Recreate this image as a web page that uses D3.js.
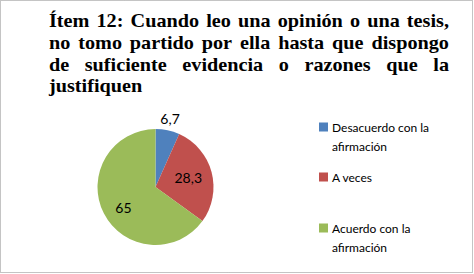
<!DOCTYPE html>
<html><head><meta charset="utf-8">
<script src="https://cdn.jsdelivr.net/npm/d3@7"></script>
<style>html,body{margin:0;padding:0;background:#fff;}
.tt{font-family:"Liberation Serif","Times New Roman",Times,serif;font-weight:bold;font-size:18.5px;}
.lb{font-family:Lato,Carlito,Calibri,sans-serif;}
</style>
</head><body>
<svg id="c" width="474" height="274"></svg>
<script>
const categories = ["Desacuerdo con la afirmación", "A veces", "Acuerdo con la afirmación"];
const values = [6.7, 28.3, 65];
const valueLabels = ["6,7", "28,3", "65"];
const colors = ["#4F81BD", "#C0504D", "#9BBB59"];
const titleLines = [
  "Ítem 12: Cuando leo una opinión o una tesis,",
  "no tomo partido por ella hasta que dispongo",
  "de suficiente evidencia o razones que la",
  "justifiquen"
];
const legendLines = [["Desacuerdo con la", "afirmación"], ["A veces"], ["Acuerdo con la", "afirmación"]];

const svg = d3.select("#c");
svg.append("rect").attr("x", 0.5).attr("y", 0.5).attr("width", 472).attr("height", 272)
  .attr("fill", "#fff").attr("stroke", "#888").attr("stroke-dasharray", "1,1");

// Title (justified, slightly widened like the reference)
const tx0 = 49, tW = 400;
const tg = svg.append("g");
const measure = tg.append("text").attr("class", "tt").text("a b");
const spW = measure.node().getComputedTextLength() - (() => { measure.text("ab"); return measure.node().getComputedTextLength(); })();
measure.remove();
let sx = 1;
const lineNodes = titleLines.map((line, i) => {
  const g = tg.append("g");
  const words = line.split(" ");
  const nodes = words.map(w => g.append("text").attr("class", "tt").attr("fill", "#000").text(w));
  const widths = nodes.map(n => n.node().getComputedTextLength());
  return { g, nodes, widths, total: d3.sum(widths) };
});
{
  const l0 = lineNodes[0];
  const natural = l0.total + spW * 1.4 * (l0.nodes.length - 1);
  sx = tW / natural;
}
lineNodes.forEach((L, i) => {
  const y = 27 + i * 21.8;
  L.g.attr("transform", `translate(${tx0},${y}) scale(${sx},1)`);
  const last = i === titleLines.length - 1;
  const gap = (!last && L.nodes.length > 1) ? (tW / sx - L.total) / (L.nodes.length - 1) : spW;
  let x = 0;
  L.nodes.forEach((n, k) => { n.attr("x", x); x += L.widths[k] + gap; });
});

// Pie
const cx = 155.5, cy = 187, r = 58;
const pie = d3.pie().sort(null).value(d => d)(values);
const arc = d3.arc().innerRadius(0).outerRadius(r);
const pg = svg.append("g").attr("transform", `translate(${cx},${cy})`);
pg.selectAll("path").data(pie).enter().append("path")
  .attr("d", arc).attr("fill", (d, i) => colors[i]);

const labelArcIn = d3.arc().innerRadius(r * 0.62).outerRadius(r * 0.62);
const labelArcOut = d3.arc().innerRadius(r * 1.2).outerRadius(r * 1.2);
pg.selectAll("text").data(pie).enter().append("text").attr("class", "lb")
  .attr("transform", (d, i) => {
    const p = (i === 0 ? labelArcOut : labelArcIn).centroid(d);
    return `translate(${p[0] - (i === 1 ? 2 : 0)},${p[1] + (i === 2 ? 4 : 0)})`;
  })
  .attr("text-anchor", "middle").attr("dominant-baseline", "central")
  .attr("font-size", 14).attr("fill", "#000")
  .text((d, i) => valueLabels[i]);

// Legend
const legY = [127, 177, 228];
const lg = svg.append("g");
categories.forEach((c, i) => {
  lg.append("rect").attr("x", 319).attr("y", legY[i] - 4.5).attr("width", 9).attr("height", 9).attr("fill", colors[i]);
  legendLines[i].forEach((t, k) => {
    lg.append("text").attr("class", "lb").attr("x", 332).attr("y", legY[i] + k * 19.5)
      .attr("dominant-baseline", "central")
      .attr("font-size", 12).attr("fill", "#000").text(t);
  });
});
</script>
</body></html>
